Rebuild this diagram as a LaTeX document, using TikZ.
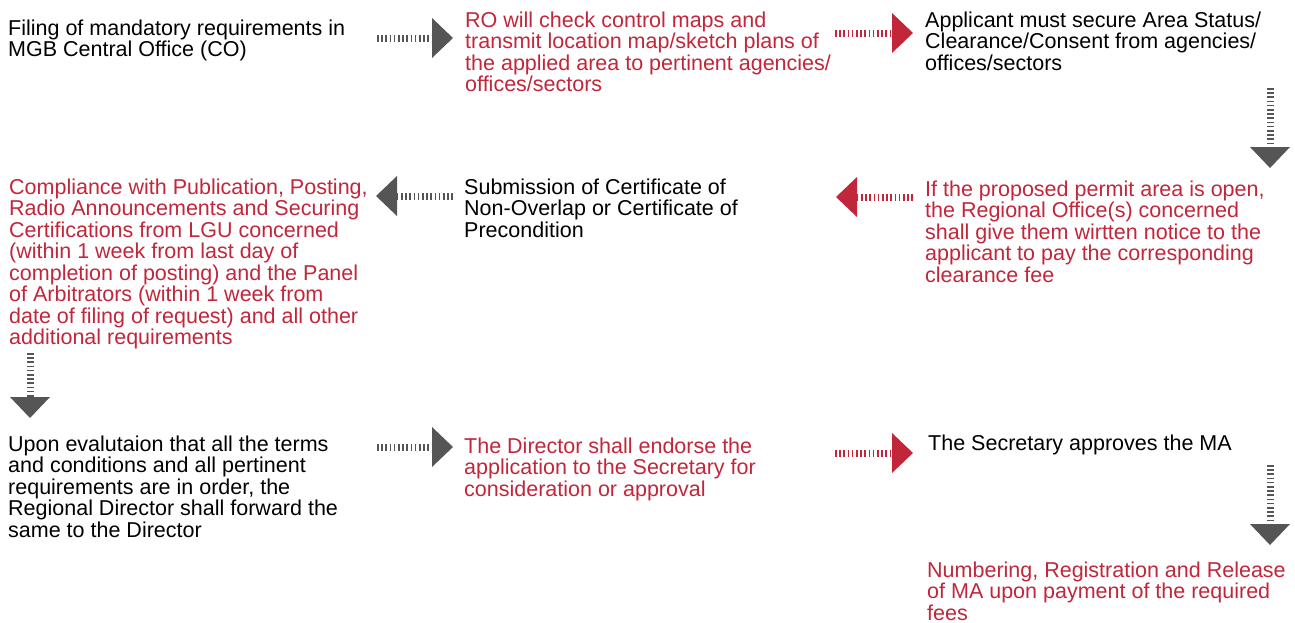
\documentclass[tikz,border=0pt]{standalone}
\usepackage{fontspec}
\setmainfont{Liberation Sans}
\usepackage{xcolor}
\definecolor{stepRed}  {HTML}{C1263B}
\definecolor{flowGrey} {HTML}{555555}
\usetikzlibrary{arrows.meta, positioning}
\tikzset{
    stage/.style={anchor=base west, inner sep=0pt, align=left, text=black,
                  font=\fontsize{21.5}{21.5}\selectfont},
    stagered/.style={stage, text=stepRed},
    flow/.style={line width=7pt, dash pattern=on 1.6pt off 2.6pt,
                 -{Triangle[length=21pt 0 0, width=40pt 0 0, line width=0pt]}},
    flowgrey/.style={flow, flowGrey},
    flowred/.style={flow, stepRed},
}

\begin{document}
\begin{tikzpicture}[x=1pt, y=-1pt]
    \useasboundingbox (0,0) rectangle (1295,622);
    % anchors sit on the last line's baseline
    \node[stage] (filing) at (8,56.5) {Filing of mandatory requirements in\\MGB Central Office (CO)};
    \node[stagered] (check) at (465,91.5) {RO will check control maps and\\transmit location map/sketch plans of\\the applied area to pertinent agencies/\\offices/sectors};
    \node[stage] (secure) at (925,70) {Applicant must secure Area Status/\\Clearance/Consent from agencies/\\offices/sectors};
    \node[stagered] (compliance) at (9,344.5) {Compliance with Publication, Posting,\\Radio Announcements and Securing\\Certifications from LGU concerned\\(within 1 week from last day of\\completion of posting) and the Panel\\of Arbitrators (within 1 week from\\date of filing of request) and all other\\additional requirements};
    \node[stage] (submission) at (464,237) {Submission of Certificate of\\Non-Overlap or Certificate of\\Precondition};
    \node[stagered] (notice) at (925,282) {If the proposed permit area is open,\\the Regional Office(s) concerned\\shall give them wirtten notice to the\\applicant to pay the corresponding\\clearance fee};
    \node[stage] (evaluation) at (8,537) {Upon evalutaion that all the terms\\and conditions and all pertinent\\requirements are in order, the\\Regional Director shall forward the\\same to the Director};
    \node[stagered] (endorse) at (464,496) {The Director shall endorse the\\application to the Secretary for\\consideration or approval};
    \node[stage] (approve) at (928,450) {The Secretary approves the MA};
    \node[stagered] (release) at (927,620) {Numbering, Registration and Release\\of MA upon payment of the required\\fees};

    \coordinate (filing out) at (377,38);   \coordinate (check in) at (453,38);
    \coordinate (check out) at (835,33);    \coordinate (secure in) at (913,33);
    \coordinate (secure out) at (1270,88);  \coordinate (notice in) at (1270,168);
    \coordinate (notice out) at (913,197);  \coordinate (submission in) at (836,197);
    \coordinate (submission out) at (453,196); \coordinate (compliance in) at (376,196);
    \coordinate (compliance out) at (30,353); \coordinate (evaluation in) at (30,418);
    \coordinate (evaluation out) at (377,447); \coordinate (endorse in) at (453,447);
    \coordinate (endorse out) at (835,453); \coordinate (approve in) at (913,453);
    \coordinate (approve out) at (1270,465); \coordinate (release in) at (1270,545);

    \draw[flowgrey] (filing out) -- (check in);
    \draw[flowred] (check out) -- (secure in);
    \draw[flowgrey] (secure out) -- (notice in);
    \draw[flowred] (notice out) -- (submission in);
    \draw[flowgrey] (submission out) -- (compliance in);
    \draw[flowgrey] (compliance out) -- (evaluation in);
    \draw[flowgrey] (evaluation out) -- (endorse in);
    \draw[flowred] (endorse out) -- (approve in);
    \draw[flowgrey] (approve out) -- (release in);
\end{tikzpicture}
\end{document}
